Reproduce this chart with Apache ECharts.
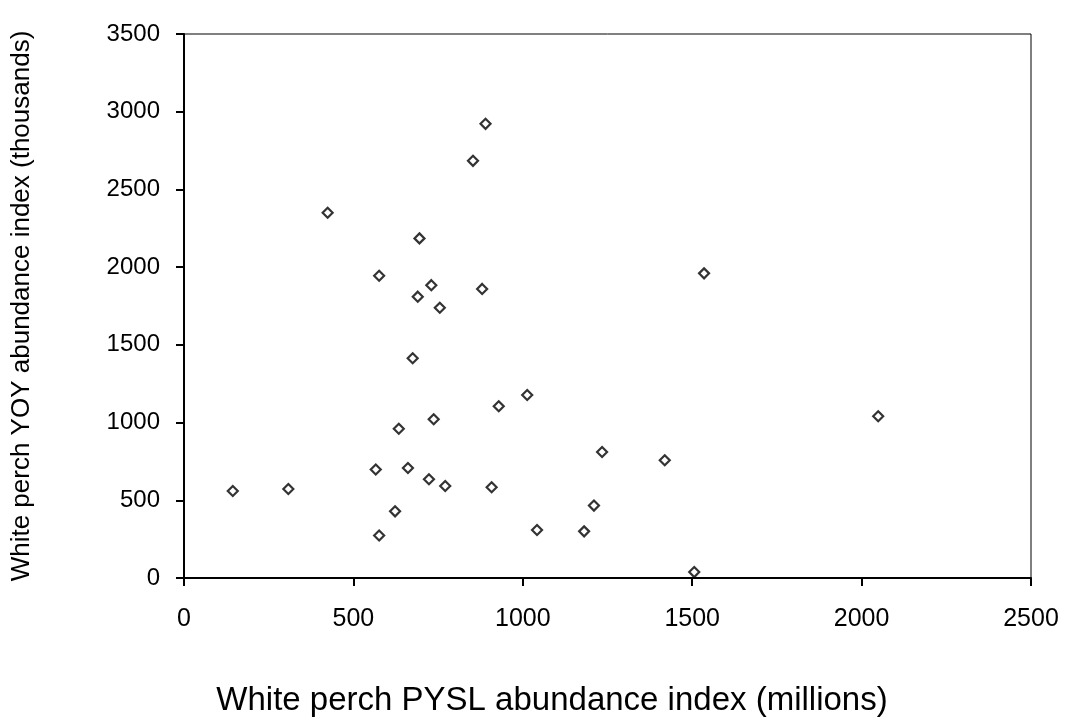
<!DOCTYPE html>
<html>
<head>
<meta charset="utf-8">
<script src="https://cdn.jsdelivr.net/npm/echarts@6/dist/echarts.min.js"></script>
<style>
  html, body { margin: 0; padding: 0; background: #fff; }
  #chart { width: 1072px; height: 726px; }
</style>
</head>
<body>
<div id="chart"></div>
<script>
// White perch: post-yolk-sac larvae index (millions) vs young-of-year index (thousands)
const pyslIndex = [144, 308, 424, 566, 576, 576, 623, 634, 661, 675, 690, 695, 723, 730, 737, 755,
                   771, 853, 880, 890, 908, 929, 1013, 1042, 1181, 1210, 1234, 1419, 1506, 1535, 2049];
const yoyIndex  = [560, 573, 2350, 698, 1945, 273, 429, 960, 708, 1414, 1810, 2185, 635, 1884, 1021, 1739,
                   592, 2684, 1860, 2922, 584, 1105, 1177, 309, 300, 466, 811, 758, 38, 1960, 1041];

const xTicks = [0, 500, 1000, 1500, 2000, 2500];
const yTicks = [0, 500, 1000, 1500, 2000, 2500, 3000, 3500];

const points = pyslIndex.map((x, i) => [x, yoyIndex[i]]);
const FONT = '"Liberation Sans", Arial, sans-serif';

const chart = echarts.init(document.getElementById('chart'));
chart.setOption({
  animation: false,
  backgroundColor: '#ffffff',
  grid: {
    left: 184, right: 41, top: 34, bottom: 148,
    containLabel: false, outerBoundsMode: 'none',
    show: true, borderColor: '#000', borderWidth: 1, backgroundColor: 'transparent'
  },
  xAxis: {
    type: 'value',
    min: xTicks[0], max: xTicks[xTicks.length - 1], interval: 500,
    splitLine: { show: false },
    axisLine: { show: true, lineStyle: { color: '#000', width: 2 } },
    axisTick: { show: true, length: 8, lineStyle: { color: '#000', width: 2 } },
    axisLabel: {
      margin: 29, color: '#000', fontSize: 25, fontFamily: FONT,
      formatter: v => String(v)
    }
  },
  yAxis: {
    type: 'value',
    min: yTicks[0], max: yTicks[yTicks.length - 1], interval: 500,
    splitLine: { show: false },
    axisLine: { show: true, lineStyle: { color: '#000', width: 2 } },
    axisTick: { show: true, length: 8, lineStyle: { color: '#000', width: 2 } },
    axisLabel: {
      margin: 24, color: '#000', fontSize: 24, fontFamily: FONT,
      formatter: v => String(v)
    },
    name: 'White perch YOY abundance index (thousands)',
    nameLocation: 'middle',
    nameGap: 149,
    nameTextStyle: { color: '#000', fontSize: 26, fontFamily: FONT }
  },
  graphic: [{
    type: 'text',
    x: 552, y: 701,
    style: {
      text: 'White perch PYSL abundance index (millions)',
      fill: '#000',
      font: '33px "Liberation Sans", Arial, sans-serif',
      align: 'center',
      verticalAlign: 'middle'
    }
  }],
  series: [{
    type: 'scatter',
    data: points,
    symbol: 'diamond',
    symbolSize: 10,
    itemStyle: { color: '#fff', borderColor: '#000', borderWidth: 2.2 }
  }]
});
</script>
</body>
</html>
